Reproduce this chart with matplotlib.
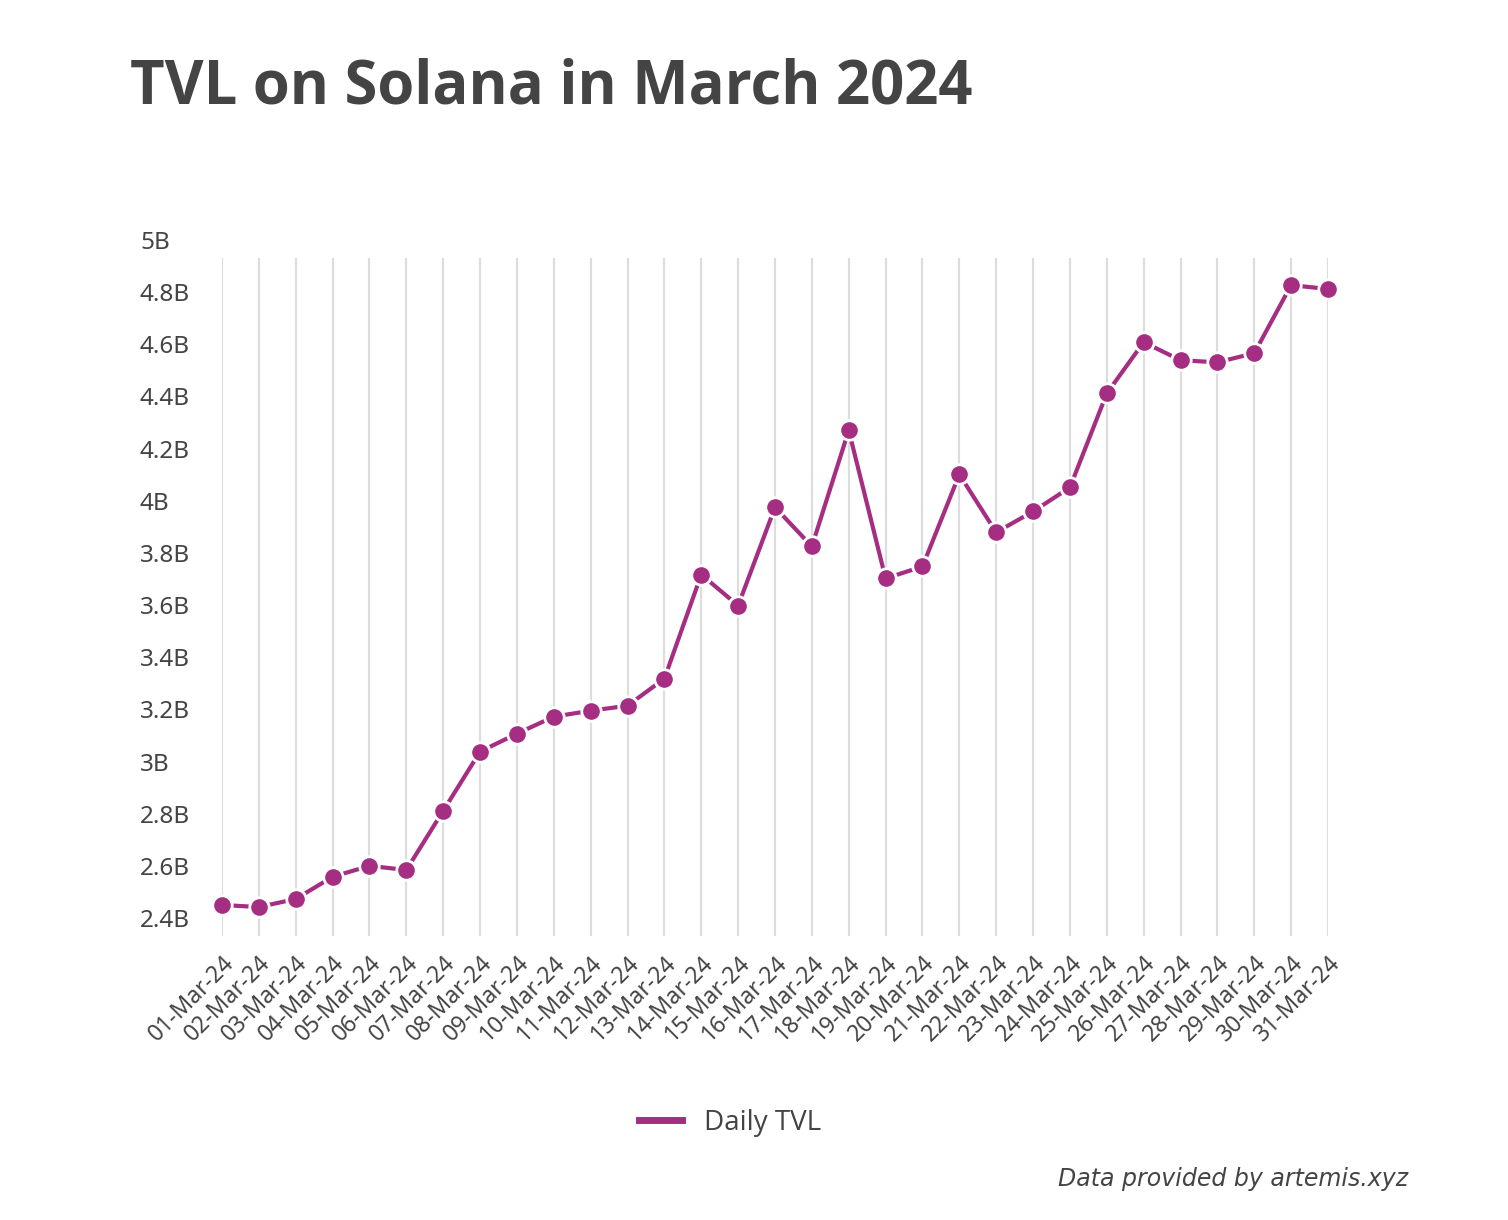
import matplotlib.pyplot as plt
from matplotlib.lines import Line2D
import matplotlib.transforms as mtransforms

# data (billions USD)
dates = [f"{d:02d}-Mar-24" for d in range(1, 32)]
tvl = [2.519, 2.511, 2.542, 2.627, 2.669, 2.653, 2.880, 3.107, 3.176, 3.241,
       3.264, 3.283, 3.387, 3.786, 3.667, 4.044, 3.894, 4.339, 3.771, 3.817,
       4.170, 3.948, 4.028, 4.120, 4.481, 4.677, 4.608, 4.600, 4.635, 4.896,
       4.881]
y_ticks = [2.4, 2.6, 2.8, 3.0, 3.2, 3.4, 3.6, 3.8, 4.0, 4.2, 4.4, 4.6, 4.8, 5.0]
y_labels = ["2.4B", "2.6B", "2.8B", "3B", "3.2B", "3.4B", "3.6B", "3.8B",
            "4B", "4.2B", "4.4B", "4.6B", "4.8B", "5B"]

line_color = '#A52E83'
text_color = '#444444'
tick_font = 'Noto Sans'

fig = plt.figure(figsize=(15.08, 12.2), dpi=100)
ax = fig.add_axes([222 / 1508, 1 - 936 / 1220, 1106 / 1508, 678 / 1220])

x = list(range(len(dates)))
ax.set_xlim(0, len(dates) - 1)
ax.set_ylim(y_ticks[0], y_ticks[-1])

# vertical grid at every day
for xi in x:
    ax.axvline(xi, color='#dddddd', lw=1.6, zorder=0)

ax.plot(x, tvl, color=line_color, lw=3, marker='o', markersize=14,
        markerfacecolor=line_color, markeredgecolor='white', markeredgewidth=2,
        clip_on=False, zorder=3)

for s in ax.spines.values():
    s.set_visible(False)

# y labels sit just above their tick value, left aligned
ax.set_yticks([])
off = mtransforms.ScaledTranslation(0, 15 / 100, fig.dpi_scale_trans)
for v, lab in zip(y_ticks, y_labels):
    ax.text((140 - 222) / 1106, v, lab, transform=ax.get_yaxis_transform() + off,
            ha='left', va='center', fontsize=17.5, color=text_color,
            family=tick_font)

ax.set_xticks(x)
ax.set_xticklabels(dates, rotation=45, ha='right', rotation_mode='anchor',
                   fontsize=16.5, color=text_color, family=tick_font)
ax.tick_params(axis='x', length=0, pad=11)

fig.text(130 / 1508, 1 - 88 / 1220, 'TVL on Solana in March 2024', ha='left',
         va='center', fontsize=43, fontweight='bold', color=text_color,
         family='Open Sans')

handle = Line2D([], [], color=line_color, lw=5)
fig.legend([handle], ['Daily TVL'], loc='center',
           bbox_to_anchor=(730 / 1508, 1 - 1123 / 1220), frameon=False,
           handlelength=1.55, handletextpad=0.8,
           prop={'family': 'Open Sans', 'size': 20}, labelcolor=text_color)

fig.text(1408 / 1508, 1 - 1179 / 1220, 'Data provided by artemis.xyz',
         ha='right', va='center', fontsize=17, style='italic',
         color=text_color, family='DejaVu Sans')

fig.savefig('out.png', dpi=100, facecolor='white')
